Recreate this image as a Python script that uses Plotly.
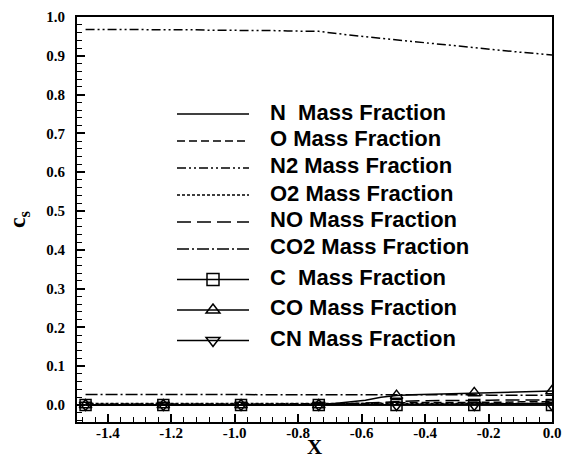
import plotly.graph_objects as go

x_vals = [-1.470, -1.421, -1.372, -1.323, -1.274, -1.225, -1.176, -1.127, -1.078, -1.029,
          -0.980, -0.931, -0.882, -0.833, -0.784, -0.735, -0.686, -0.637, -0.588, -0.539,
          -0.490, -0.441, -0.392, -0.343, -0.294, -0.245, -0.196, -0.147, -0.098, -0.049, 0.000]

n_frac = [0.000, 0.000, 0.000, 0.000, 0.000, 0.000, 0.000, 0.000, 0.000, 0.000,
          0.000, 0.000, 0.000, 0.000, 0.000, 0.000, 0.000, 0.001, 0.001, 0.001,
          0.001, 0.002, 0.002, 0.002, 0.002, 0.003, 0.003, 0.003, 0.003, 0.004, 0.004]
o_frac = [0.002, 0.002, 0.002, 0.002, 0.002, 0.002, 0.002, 0.002, 0.002, 0.002,
          0.002, 0.002, 0.002, 0.002, 0.002, 0.002, 0.003, 0.003, 0.004, 0.005,
          0.005, 0.006, 0.006, 0.006, 0.007, 0.007, 0.007, 0.007, 0.008, 0.008, 0.008]
n2_frac = [0.968, 0.968, 0.968, 0.968, 0.967, 0.967, 0.967, 0.967, 0.966, 0.966,
           0.966, 0.965, 0.965, 0.964, 0.964, 0.963, 0.958, 0.953, 0.949, 0.945,
           0.941, 0.936, 0.932, 0.928, 0.924, 0.920, 0.916, 0.912, 0.909, 0.906, 0.902]
o2_frac = [0.004, 0.004, 0.004, 0.004, 0.004, 0.004, 0.004, 0.004, 0.004, 0.004,
           0.004, 0.004, 0.004, 0.004, 0.004, 0.004, 0.004, 0.004, 0.004, 0.004,
           0.004, 0.004, 0.004, 0.004, 0.004, 0.004, 0.004, 0.004, 0.004, 0.004, 0.004]
no_frac = [0.000, 0.000, 0.000, 0.000, 0.000, 0.000, 0.000, 0.000, 0.000, 0.000,
           0.000, 0.000, 0.000, 0.000, 0.000, 0.000, 0.001, 0.003, 0.005, 0.007,
           0.009, 0.010, 0.011, 0.011, 0.012, 0.012, 0.012, 0.013, 0.013, 0.013, 0.013]
co2_frac = [0.027, 0.027, 0.027, 0.027, 0.027, 0.027, 0.027, 0.027, 0.027, 0.027,
            0.027, 0.027, 0.027, 0.027, 0.027, 0.027, 0.027, 0.027, 0.027, 0.027,
            0.027, 0.027, 0.026, 0.026, 0.026, 0.026, 0.025, 0.025, 0.025, 0.025, 0.025]
c_frac = [0.000] * 31
co_frac = [0.000, 0.000, 0.000, 0.000, 0.000, 0.000, 0.000, 0.000, 0.000, 0.000,
           0.000, 0.000, 0.000, 0.000, 0.000, 0.000, 0.004, 0.008, 0.012, 0.020,
           0.024, 0.026, 0.027, 0.028, 0.030, 0.031, 0.032, 0.032, 0.034, 0.035, 0.036]
cn_frac = [0.000] * 31

marker_idx = [0, 5, 10, 15, 20, 25, 30]

x_tickvals = [-1.4, -1.2, -1.0, -0.8, -0.6, -0.4, -0.2, 0.0]
x_ticktext = ["-1.4", "-1.2", "-1.0", "-0.8", "-0.6", "-0.4", "-0.2", "0.0"]
y_tickvals = [0.0, 0.1, 0.2, 0.3, 0.4, 0.5, 0.6, 0.7, 0.8, 0.9, 1.0]
y_ticktext = ["0.0", "0.1", "0.2", "0.3", "0.4", "0.5", "0.6", "0.7", "0.8", "0.9", "1.0"]

legend_labels = ["N  Mass Fraction", "O Mass Fraction", "N2 Mass Fraction", "O2 Mass Fraction",
                 "NO Mass Fraction", "CO2 Mass Fraction", "C  Mass Fraction",
                 "CO Mass Fraction", "CN Mass Fraction"]
# legend label rows (paper fraction, top to bottom)
legend_label_y = [0.7654, 0.6988, 0.6321, 0.5654, 0.4988, 0.4321, 0.3556, 0.2815, 0.2074]

series = [
    (n_frac, "solid", None, "A"),
    (o_frac, "8px,4px", None, "A"),
    (n2_frac, "9px,3px,2px,3px,2px,3px", None, "A"),
    (o2_frac, "3px,2px", None, "A"),
    (no_frac, "14px,6px", None, "A"),
    (co2_frac, "12px,3px,2px,3px", None, "A"),
    (c_frac, "solid", "square-open", "B"),
    (co_frac, "solid", "triangle-up-open", "C"),
    (cn_frac, "solid", "triangle-down-open", "D"),
]

fig = go.Figure()
for i, (vals, dash, sym, grp) in enumerate(series):
    fig.add_trace(go.Scatter(x=x_vals, y=vals, mode="lines", showlegend=False,
                             name=legend_labels[i],
                             line=dict(color="black", width=1.5, dash=dash)))
    if sym:
        fig.add_trace(go.Scatter(x=[x_vals[k] for k in marker_idx],
                                 y=[vals[k] for k in marker_idx],
                                 mode="markers", showlegend=False,
                                 name=legend_labels[i],
                                 marker=dict(symbol=sym, size=11, color="black",
                                             line=dict(width=1.5, color="black"))))
    # legend symbol entry (label drawn as annotation for exact spacing)
    fig.add_trace(go.Scatter(x=[None], y=[None], name="\u00a0", legendgroup=grp,
                             mode="lines+markers" if sym else "lines",
                             line=dict(color="black", width=1.5, dash=dash),
                             marker=dict(symbol=sym or "circle", size=12, color="black",
                                         line=dict(width=1.5, color="black"))))

for lab, yy in zip(legend_labels, legend_label_y):
    fig.add_annotation(x=0.402, y=yy, xref="paper", yref="paper", xanchor="left",
                       yanchor="middle", showarrow=False, text=lab,
                       font=dict(family="Liberation Sans, Arial, sans-serif", size=22,
                                 color="black", weight="bold"))

axis_common = dict(showline=True, linecolor="black", linewidth=2, mirror=True,
                   ticks="inside", tickcolor="black", tickwidth=1.5, ticklen=8,
                   showgrid=False, zeroline=False, automargin=False,
                   tickfont=dict(family="Liberation Serif, Times New Roman, serif",
                                 size=15, color="black", weight="bold"))

fig.update_xaxes(range=[-1.497, 0.0], tickvals=x_tickvals, ticktext=x_ticktext,
                 ticklabelstandoff=-4,
                 minor=dict(dtick=0.04, tick0=-1.4, ticks="inside", ticklen=5,
                            tickwidth=1.2, tickcolor="black"),
                 title=dict(text="X", standoff=12,
                            font=dict(family="Liberation Serif, serif", size=21, color="black",
                                      weight="bold")),
                 **axis_common)
fig.update_yaxes(range=[-0.044, 1.0], tickvals=y_tickvals, ticktext=y_ticktext,
                 ticklabelstandoff=7,
                 minor=dict(dtick=0.02, tick0=0, ticks="inside", ticklen=5,
                            tickwidth=1.2, tickcolor="black"),
                 title=dict(text="c<sub>s</sub>", standoff=14,
                            font=dict(family="Liberation Serif, serif", size=24, color="black",
                                      weight="bold")),
                 **axis_common)

fig.update_layout(
    width=563, height=459,
    margin=dict(l=77, r=11, t=17, b=37, autoexpand=False),
    paper_bgcolor="white", plot_bgcolor="white",
    legend=dict(x=0.2, y=0.806, xanchor="left", yanchor="top",
                bgcolor="rgba(0,0,0,0)", itemwidth=72, tracegroupgap=3.5,
                font=dict(family="Liberation Sans, Arial, sans-serif", size=18.46,
                          color="black", weight="bold")),
)

fig.write_html("out.html", config={"displayModeBar": False},
               post_script="document.body.style.margin='0';")
